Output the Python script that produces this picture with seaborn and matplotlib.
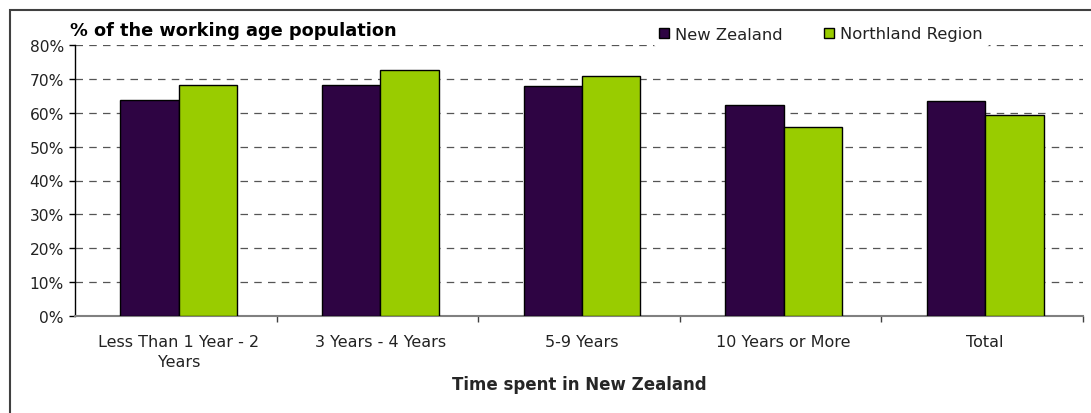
import numpy as np
import pandas as pd
import matplotlib
matplotlib.use("Agg")
import matplotlib.pyplot as plt
import seaborn as sns
from matplotlib.patches import Rectangle
from matplotlib.ticker import FixedLocator, FuncFormatter

categories = ["Less Than 1 Year - 2\nYears", "3 Years - 4 Years", "5-9 Years",
              "10 Years or More", "Total"]
series_names = ["New Zealand", "Northland Region"]
nz_values = [63.9, 68.2, 67.8, 62.2, 63.6]
northland_values = [68.1, 72.7, 70.8, 55.8, 59.4]
colors = ["#2E0443", "#99CC00"]

df = pd.DataFrame({
    "category": categories * 2,
    "series": [series_names[0]] * 5 + [series_names[1]] * 5,
    "value": nz_values + northland_values,
})

sns.set_style("white")
plt.rcParams['font.family'] = ['DejaVu Sans']

W, H = 1091, 414
fig = plt.figure(figsize=(W / 100, H / 100), dpi=100)
ax = fig.add_axes([75 / W, 1 - 317 / H, (1083 - 75) / W, (317 - 46) / H])

# outer border
fig.patches.append(Rectangle((10 / W, -0.1), 2.0, 1 - 11 / H + 0.1,
                             transform=fig.transFigure, fill=False,
                             edgecolor="#404040", linewidth=1.5, zorder=0))

sns.barplot(data=df, x="category", y="value", hue="series", palette=colors,
            width=0.58, edgecolor="black", linewidth=1, ax=ax, zorder=3,
            saturation=1)

ax.set_ylim(0, 80)
ax.set_xlim(-0.515, 4.485)
ax.yaxis.set_major_locator(FixedLocator(np.arange(0, 81, 10)))
ax.yaxis.set_major_formatter(FuncFormatter(lambda v, p: f"{int(v)}%"))
ax.grid(axis="y", color="#555555", linestyle=(0, (6, 5)), linewidth=0.9, zorder=0)
ax.set_axisbelow(True)

for s in ["top", "right"]:
    ax.spines[s].set_visible(False)
ax.spines["left"].set_color("black")
ax.spines["left"].set_linewidth(1)
ax.spines["bottom"].set_color("#808080")
ax.spines["bottom"].set_linewidth(1.5)

ax.tick_params(axis="y", which="major", direction="out", length=4, width=1,
               color="black", labelsize=11.2, pad=4, left=True)
ax.tick_params(axis="x", which="major", length=0, labelsize=11.5, pad=13)
ax.xaxis.set_minor_locator(FixedLocator([0.485, 1.485, 2.485, 3.485, 4.485]))
ax.tick_params(axis="x", which="minor", direction="out", length=4, width=1,
               color="#404040", bottom=True)
for lab in ax.get_xticklabels():
    lab.set_linespacing(1.45)
    lab.set_color("#222222")
for lab in ax.get_yticklabels():
    lab.set_color("#222222")

ax.set_ylabel("")
ax.set_xlabel("Time spent in New Zealand", fontsize=12, fontweight="bold", labelpad=4)

fig.text(70 / W, 1 - 31 / H, "% of the working age population", fontsize=12.8,
         fontweight="bold", ha="left", va="center", color="black")

leg = ax.legend(loc="center", bbox_to_anchor=(821 / W, 1 - 35 / H),
                bbox_transform=fig.transFigure, ncol=2, frameon=True,
                fontsize=11.8, handlelength=0.6, handleheight=0.6,
                handletextpad=0.4, columnspacing=2.5, borderpad=0.3)
leg.get_frame().set_facecolor("white")
leg.get_frame().set_edgecolor("white")
leg.get_frame().set_alpha(1)
leg.set_title(None)
for t in leg.get_texts():
    t.set_color("#222222")

fig.savefig("out.png", dpi=100, facecolor="white")
